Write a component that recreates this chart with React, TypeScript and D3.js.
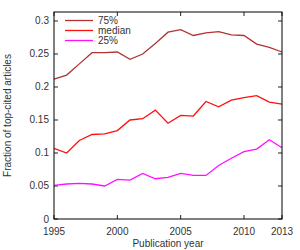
import React, { useRef, useEffect } from 'react';
import * as d3 from 'd3';

const years = d3.range(1995, 2014);
const q75 = [0.212, 0.218, 0.235, 0.252, 0.252, 0.253, 0.242, 0.250, 0.266, 0.283, 0.287, 0.278, 0.282, 0.284, 0.279, 0.278, 0.265, 0.260, 0.253];
const median = [0.107, 0.100, 0.119, 0.128, 0.129, 0.134, 0.150, 0.152, 0.165, 0.145, 0.157, 0.156, 0.178, 0.170, 0.180, 0.184, 0.187, 0.177, 0.174];
const q25 = [0.051, 0.053, 0.054, 0.053, 0.050, 0.060, 0.059, 0.069, 0.061, 0.063, 0.069, 0.066, 0.066, 0.081, 0.092, 0.102, 0.106, 0.120, 0.108];
const xTicks = [1995, 2000, 2005, 2010, 2013];
const yTicks = [0, 0.05, 0.1, 0.15, 0.2, 0.25, 0.3];

const series = [
  { name: '75%', values: q75, color: '#b03434' },
  { name: 'median', values: median, color: '#ff1010' },
  { name: '25%', values: q25, color: '#ff10ff' },
];

const App = () => {
  const svgRef = useRef<SVGSVGElement>(null);

  useEffect(() => {
    const svg = d3.select(svgRef.current);
    svg.selectAll('*').remove();

    const width = 300;
    const height = 250;
    const left = 54, right = 282, top = 12, bottom = 219;

    const x = d3.scaleLinear().domain([1995, 2013]).range([left, right]);
    const y = d3.scaleLinear().domain([0, 0.3136]).range([bottom, top]);

    const font = 'Liberation Sans, Arial, sans-serif';
    const tk = 4;

    const g = svg.append('g');

    // ticks (inward, mirrored)
    g.selectAll('.xt').data(xTicks).join('path')
      .attr('d', d => `M${x(d)},${bottom}v${-tk}M${x(d)},${top}v${tk}`)
      .attr('stroke', '#222').attr('stroke-width', 1);
    g.selectAll('.yt').data(yTicks).join('path')
      .attr('d', d => `M${left},${y(d)}h${tk}M${right},${y(d)}h${-tk}`)
      .attr('stroke', '#222').attr('stroke-width', 1);

    // lines
    const line = d3.line<number>()
      .x((d, i) => x(years[i]))
      .y(d => y(d));
    series.forEach(s => {
      g.append('path')
        .attr('d', line(s.values))
        .attr('fill', 'none')
        .attr('stroke', s.color)
        .attr('stroke-width', 1.3);
    });

    // legend
    series.forEach((s, i) => {
      const ly = 20.5 + i * 10;
      g.append('line')
        .attr('x1', 65).attr('x2', 93).attr('y1', ly).attr('y2', ly)
        .attr('stroke', s.color).attr('stroke-width', 1.3);
      g.append('text')
        .attr('x', 98).attr('y', ly + 3.5)
        .attr('font-family', font).attr('font-size', 10).attr('fill', '#333')
        .text(s.name);
    });

    // border
    g.append('rect')
      .attr('x', left).attr('y', top)
      .attr('width', right - left).attr('height', bottom - top)
      .attr('fill', 'none').attr('stroke', '#000').attr('stroke-width', 1);

    // tick labels
    g.selectAll('.xl').data(xTicks).join('text')
      .attr('x', d => x(d)).attr('y', 235)
      .attr('text-anchor', 'middle')
      .attr('font-family', font).attr('font-size', 10).attr('fill', '#333')
      .text(d => d);
    g.selectAll('.yl').data(yTicks).join('text')
      .attr('x', 49).attr('y', d => y(d) + 3.5)
      .attr('text-anchor', 'end')
      .attr('font-family', font).attr('font-size', 10).attr('fill', '#333')
      .text(d => String(d));

    // axis titles
    g.append('text')
      .attr('x', (left + right) / 2).attr('y', 247)
      .attr('text-anchor', 'middle')
      .attr('font-family', font).attr('font-size', 10).attr('fill', '#333')
      .text('Publication year');
    g.append('text')
      .attr('transform', `translate(11,${(top + bottom) / 2}) rotate(-90)`)
      .attr('text-anchor', 'middle')
      .attr('font-family', font).attr('font-size', 10).attr('fill', '#333')
      .text('Fraction of top-cited articles');

    svg.attr('width', width).attr('height', height);
  }, []);

  return (
    <svg ref={svgRef} width={300} height={250}
      style={{ position: 'absolute', left: 0, top: 0, background: '#fff' }} />
  );
};

export default App;
